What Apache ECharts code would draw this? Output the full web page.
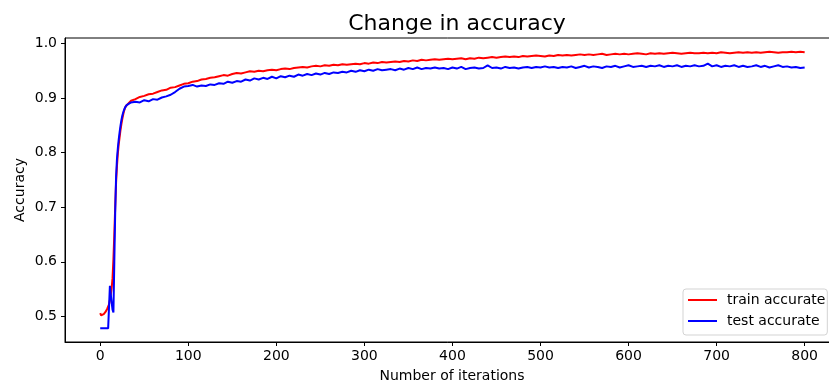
<!DOCTYPE html>
<html>
<head>
<meta charset="utf-8">
<script src="https://cdn.jsdelivr.net/npm/echarts@6/dist/echarts.min.js"></script>
<style>
html,body{margin:0;padding:0;background:#fff;}
#chart{width:829px;height:385px;}
</style>
</head>
<body>
<div id="chart"></div>
<script>
// x grid: every iteration for 0..29, then every 5 iterations up to 800
const earlyIterCount = 30;
const lateIterStart = 30, lateIterStep = 5, lateIterEnd = 800;

const trainAccuracy = [
  0.506,0.502,0.500,0.502,0.504,0.506,0.508,0.511,0.514,0.517,
  0.522,0.530,0.540,0.552,0.570,0.605,0.650,0.700,0.745,0.775,
  0.798,0.815,0.828,0.841,0.852,0.861,0.869,0.876,0.881,0.885,
  // 30..75
  0.888,0.895,0.898,0.902,0.904,0.907,0.908,0.911,0.914,0.915,
  // 80..125
  0.919,0.920,0.923,0.926,0.927,0.930,0.931,0.934,0.935,0.937,
  // 130..175
  0.938,0.940,0.942,0.941,0.944,0.946,0.945,0.947,0.949,0.948,
  // 180..225
  0.950,0.949,0.951,0.952,0.951,0.953,0.954,0.953,0.955,0.956,
  // 230..275
  0.957,0.956,0.958,0.959,0.958,0.960,0.959,0.961,0.960,0.962,
  // 280..325
  0.961,0.962,0.963,0.962,0.964,0.963,0.965,0.964,0.966,0.965,
  // 330..375
  0.966,0.967,0.966,0.968,0.967,0.969,0.968,0.970,0.969,0.970,
  // 380..425
  0.971,0.970,0.971,0.972,0.971,0.972,0.973,0.971,0.973,0.972,
  // 430..475
  0.974,0.973,0.974,0.975,0.974,0.975,0.976,0.975,0.976,0.975,
  // 480..525
  0.977,0.976,0.977,0.978,0.977,0.976,0.978,0.977,0.979,0.978,
  // 530..575
  0.979,0.978,0.979,0.980,0.979,0.980,0.979,0.980,0.981,0.979,
  // 580..625
  0.980,0.981,0.980,0.981,0.980,0.981,0.982,0.981,0.980,0.982,
  // 630..675
  0.981,0.982,0.981,0.982,0.983,0.982,0.981,0.982,0.983,0.982,
  // 680..725
  0.982,0.983,0.982,0.983,0.982,0.984,0.983,0.982,0.983,0.984,
  // 730..775
  0.983,0.984,0.983,0.984,0.983,0.984,0.985,0.984,0.983,0.984,
  // 780..800
  0.984,0.985,0.984,0.985,0.984
];

const testAccuracy = [
  0.478,0.478,0.478,0.478,0.478,0.478,0.478,0.478,0.478,0.478,
  0.478,0.556,0.540,0.525,0.512,0.507,0.600,0.690,0.755,0.788,
  0.808,0.824,0.837,0.849,0.859,0.867,0.873,0.878,0.882,0.885,
  // 30..75
  0.887,0.892,0.893,0.892,0.896,0.894,0.898,0.897,0.901,0.903,
  // 80..125
  0.906,0.911,0.917,0.921,0.922,0.924,0.921,0.923,0.922,0.925,
  // 130..175
  0.924,0.927,0.926,0.930,0.928,0.931,0.930,0.934,0.932,0.936,
  // 180..225
  0.934,0.937,0.935,0.939,0.936,0.940,0.938,0.941,0.939,0.943,
  // 230..275
  0.941,0.944,0.942,0.945,0.943,0.946,0.944,0.947,0.946,0.948,
  // 280..325
  0.947,0.950,0.948,0.951,0.949,0.952,0.950,0.953,0.951,0.952,
  // 330..375
  0.953,0.951,0.954,0.952,0.955,0.953,0.956,0.953,0.955,0.954,
  // 380..425
  0.956,0.954,0.955,0.953,0.956,0.954,0.957,0.953,0.955,0.956,
  // 430..475
  0.954,0.955,0.960,0.955,0.956,0.954,0.957,0.955,0.956,0.954,
  // 480..525
  0.956,0.957,0.955,0.957,0.956,0.958,0.956,0.957,0.955,0.957,
  // 530..575
  0.956,0.958,0.955,0.957,0.959,0.956,0.958,0.957,0.955,0.958,
  // 580..625
  0.957,0.959,0.956,0.958,0.960,0.957,0.958,0.959,0.957,0.959,
  // 630..675
  0.958,0.960,0.957,0.959,0.958,0.960,0.957,0.959,0.958,0.960,
  // 680..725
  0.958,0.959,0.963,0.958,0.960,0.957,0.959,0.958,0.960,0.957,
  // 730..775
  0.959,0.957,0.958,0.960,0.957,0.959,0.956,0.958,0.960,0.957,
  // 780..800
  0.958,0.956,0.957,0.955,0.956
];

const xTickValues = [0,100,200,300,400,500,600,700,800];
const yTickValues = [0.5,0.6,0.7,0.8,0.9,1.0];
const seriesNames = ['train accurate','test accurate'];
const titleText = 'Change in accuracy';
const xAxisTitle = 'Number of iterations';
const yAxisTitle = 'Accuracy';

const iterations = [];
for (let i = 0; i < earlyIterCount; i++) iterations.push(i);
for (let i = lateIterStart; i <= lateIterEnd; i += lateIterStep) iterations.push(i);

const pairs = vals => iterations.map((x, i) => [x, vals[i]]);

const FONT = 'DejaVu Sans';
const chart = echarts.init(document.getElementById('chart'), null, {renderer: 'canvas'});
chart.setOption({
  animation: false,
  backgroundColor: '#ffffff',
  title: {
    text: titleText,
    left: 452,
    textAlign: 'center',
    top: 8,
    textStyle: {fontFamily: FONT, fontSize: 22, fontWeight: 'normal', color: '#000'}
  },
  grid: {
    left: 65, top: 38, bottom: 43, right: -10,
    outerBoundsMode: 'none',
    containLabel: false,
    show: true, borderColor: '#000', borderWidth: 1, backgroundColor: 'transparent'
  },
  xAxis: {
    type: 'value',
    min: -40, max: 839,
    name: xAxisTitle,
    nameLocation: 'middle',
    nameGap: 27,
    nameMoveOverlap: false,
    nameTextStyle: {fontFamily: FONT, fontSize: 14, color: '#000'},
    axisLine: {show: true, onZero: false, lineStyle: {color: '#000', width: 1}},
    axisTick: {show: true, length: 4, lineStyle: {color: '#000'}, customValues: xTickValues},
    axisLabel: {fontFamily: FONT, fontSize: 14, color: '#000', margin: 7, customValues: xTickValues,
                formatter: v => String(v)},
    splitLine: {show: false}
  },
  yAxis: {
    type: 'value',
    min: 0.453, max: 1.010,
    name: yAxisTitle,
    nameLocation: 'middle',
    nameGap: 38,
    nameMoveOverlap: false,
    nameRotate: 90,
    nameTextStyle: {fontFamily: FONT, fontSize: 14, color: '#000'},
    axisLine: {show: true, onZero: false, lineStyle: {color: '#000', width: 1}},
    axisTick: {show: true, length: 4, lineStyle: {color: '#000'}, customValues: yTickValues},
    axisLabel: {fontFamily: FONT, fontSize: 14, color: '#000', margin: 8, customValues: yTickValues,
                formatter: v => v.toFixed(1)},
    splitLine: {show: false}
  },
  legend: {
    orient: 'vertical',
    left: 683, top: 289,
    padding: [4, 2, 7, 5],
    itemGap: 7,
    itemWidth: 29, itemHeight: 2,
    icon: 'rect',
    backgroundColor: 'rgba(255,255,255,0.8)',
    borderColor: '#d3d3d3', borderWidth: 1, borderRadius: 3,
    textStyle: {fontFamily: FONT, fontSize: 14, color: '#000', lineHeight: 14, padding: [0,0,0,5]},
    data: seriesNames
  },
  series: [
    {
      name: seriesNames[0], type: 'line', data: pairs(trainAccuracy),
      showSymbol: false, symbol: 'none',
      lineStyle: {color: '#ff0000', width: 2}, itemStyle: {color: '#ff0000'}
    },
    {
      name: seriesNames[1], type: 'line', data: pairs(testAccuracy),
      showSymbol: false, symbol: 'none',
      lineStyle: {color: '#0000ff', width: 2}, itemStyle: {color: '#0000ff'}
    }
  ]
});
</script>
</body>
</html>
